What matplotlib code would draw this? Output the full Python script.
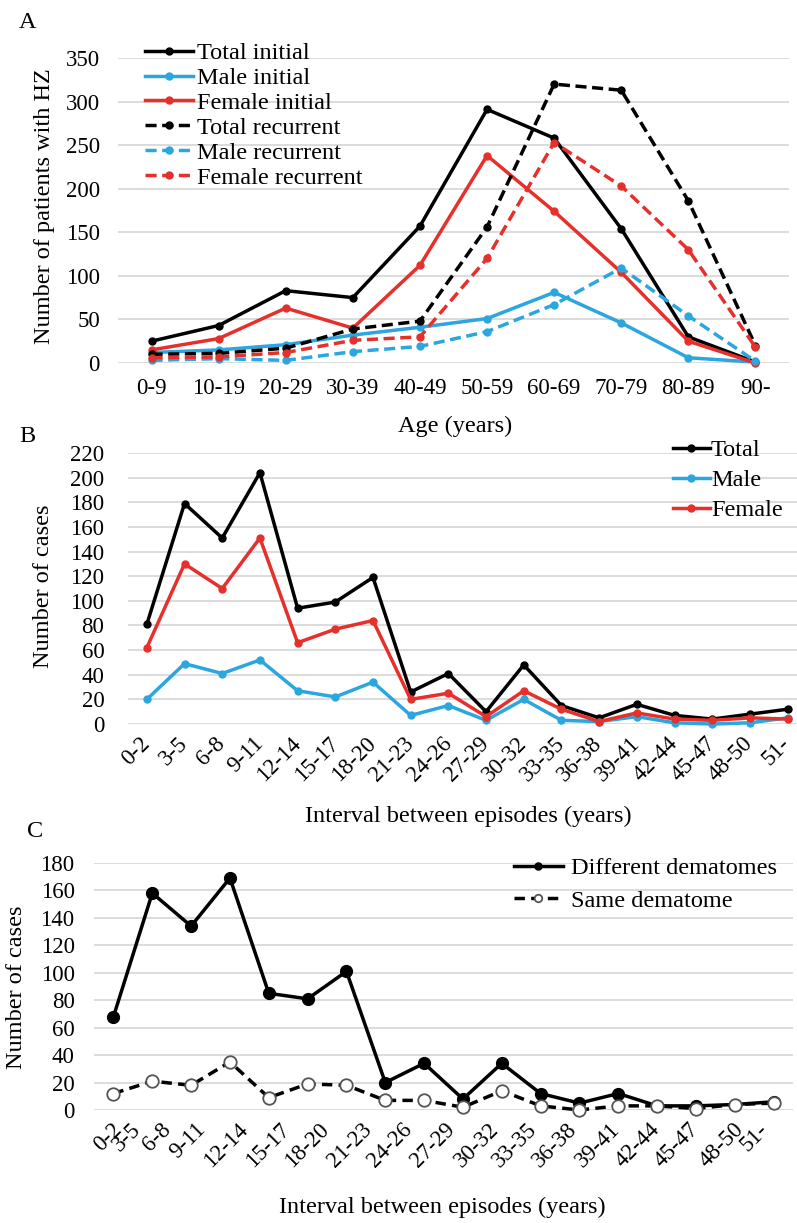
import numpy as np
import matplotlib
matplotlib.use("Agg")
import matplotlib.pyplot as plt

plt.rcParams['font.family'] = ['Liberation Serif', 'DejaVu Serif']

# ---- data ----
age_groups = ['0-9', '10-19', '20-29', '30-39', '40-49', '50-59', '60-69', '70-79', '80-89', '90-']
total_initial = [25, 43, 83, 75, 157, 291, 258, 154, 30, 1]
male_initial = [12, 15, 21, 32, 41, 51, 81, 46, 6, 1]
female_initial = [15, 28, 63, 40, 112, 238, 174, 104, 25, 0]
total_recurrent = [10, 11, 17, 39, 48, 156, 320, 313, 186, 20]
male_recurrent = [3, 5, 3, 13, 19, 36, 67, 109, 54, 2]
female_recurrent = [6, 7, 12, 26, 30, 120, 253, 203, 130, 18]

intervals = ['0-2', '3-5', '6-8', '9-11', '12-14', '15-17', '18-20', '21-23', '24-26',
             '27-29', '30-32', '33-35', '36-38', '39-41', '42-44', '45-47', '48-50', '51-']
total_cases = [81, 179, 151, 204, 94, 99, 119, 26, 41, 10, 48, 15, 5, 16, 7, 4, 8, 12]
male_cases = [20, 49, 41, 52, 27, 22, 34, 7, 15, 3, 20, 3, 2, 6, 1, 0, 1, 5]
female_cases = [62, 130, 110, 151, 66, 77, 84, 20, 25, 6, 27, 12, 2, 9, 4, 3, 5, 4]

different_derm = [68, 158, 134, 169, 85, 81, 101, 20, 34, 8, 34, 12, 5, 12, 3, 3, 4, 6]
same_derm = [12, 21, 18, 35, 9, 19, 18, 7, 7, 2, 14, 3, 0, 3, 3, 1, 4, 5]

# tick label positions in panel C (the original labels are shifted from the points)
c_label_pos = [0.15, 0.62, 1.39, 2.29, 3.37, 4.45, 5.48, 6.58, 7.61, 8.72,
               9.85, 10.82, 11.85, 12.95, 13.99, 14.99, 16.15, 16.79]

BLUE = '#2ba6de'
RED = '#e5302b'
GRID = '#d9d9d9'
FS = 16.5
LFS = 17.5

fig = plt.figure(figsize=(7.97, 12.23), dpi=100)


def style(ax):
    for s in ax.spines.values():
        s.set_visible(False)
    ax.yaxis.grid(True, color=GRID, linewidth=1.3)
    ax.set_axisbelow(True)
    ax.tick_params(length=0, labelsize=FS)


# ---- panel A ----
axA = fig.add_axes([0.148, 0.7032, 0.842, 0.2494])
style(axA)
xa = np.arange(len(age_groups))
kw = dict(lw=2.5, marker='o', ms=5, clip_on=False)
dash = (3.2, 1.6)
axA.plot(xa, total_initial, color='black', label='Total initial', **kw)
axA.plot(xa, male_initial, color=BLUE, label='Male initial', **kw)
axA.plot(xa, female_initial, color=RED, label='Female initial', **kw)
axA.plot(xa, total_recurrent, color='black', ls='--', dashes=dash, label='Total recurrent', **kw)
axA.plot(xa, male_recurrent, color=BLUE, ls='--', dashes=dash, label='Male recurrent', **kw)
axA.plot(xa, female_recurrent, color=RED, ls='--', dashes=dash, label='Female recurrent', **kw)
axA.set_xlim(-0.5, len(age_groups) - 0.5)
axA.set_ylim(0, 350)
axA.set_yticks(np.arange(0, 351, 50))
axA.set_xticks(xa)
axA.set_xticklabels(age_groups)
axA.tick_params(axis='x', pad=11)
axA.tick_params(axis='y', pad=13)
axA.set_xlabel('Age (years)', fontsize=LFS)
axA.xaxis.set_label_coords(0.502, -0.172)
axA.set_ylabel('Number of patients with HZ', fontsize=LFS)
axA.yaxis.set_label_coords(-0.094, 0.515)
axA.legend(loc='upper left', bbox_to_anchor=(0.040, 1.052), frameon=False, fontsize=LFS,
           borderpad=0, borderaxespad=0, handlelength=2.0, handletextpad=0.15,
           labelspacing=0.12)

# ---- panel B ----
axB = fig.add_axes([0.1606, 0.408, 0.8394, 0.2216])
style(axB)
xb = np.arange(len(intervals))
axB.plot(xb, total_cases, color='black', label='Total', **kw)
axB.plot(xb, male_cases, color=BLUE, label='Male', **kw)
axB.plot(xb, female_cases, color=RED, label='Female', **kw)
axB.set_xlim(-0.5, 17.25)
axB.set_ylim(0, 220)
axB.set_yticks(np.arange(0, 221, 20))
axB.set_xticks(xb)
axB.set_xticklabels(intervals)
plt.setp(axB.get_xticklabels(), rotation=45, ha='right', va='center', rotation_mode='anchor')
axB.tick_params(axis='x', pad=12)
axB.tick_params(axis='y', pad=17)
axB.set_xlabel('Interval between episodes (years)', fontsize=LFS)
axB.xaxis.set_label_coords(0.508, -0.30)
axB.set_ylabel('Number of cases', fontsize=LFS)
axB.yaxis.set_label_coords(-0.111, 0.51)
axB.legend(loc='upper left', bbox_to_anchor=(0.815, 1.05), frameon=False, fontsize=LFS,
           borderpad=0, borderaxespad=0, handlelength=1.5, handletextpad=0.05,
           labelspacing=0.32)

# ---- panel C ----
axC = fig.add_axes([0.118, 0.0924, 0.877, 0.202])
style(axC)
xc = np.arange(len(intervals))
axC.plot(xc, different_derm, color='black', lw=2.5, marker='o', ms=8.5,
         clip_on=False, label='Different dematomes')
axC.plot(xc, same_derm, color='black', lw=2.5, ls='--', dashes=(3.0, 1.8), marker='o', ms=9,
         mfc='white', mec='#555555', mew=1.3, clip_on=False, label='Same dematome')
axC.set_xlim(-0.5, len(intervals) - 0.5)
axC.set_ylim(0, 180)
axC.set_yticks(np.arange(0, 181, 20))
axC.set_xticks(c_label_pos)
axC.set_xticklabels(intervals)
plt.setp(axC.get_xticklabels(), rotation=45, ha='right', va='center', rotation_mode='anchor')
axC.tick_params(axis='x', pad=12)
axC.tick_params(axis='y', pad=14)
axC.set_xlabel('Interval between episodes (years)', fontsize=LFS)
axC.xaxis.set_label_coords(0.498, -0.35)
axC.set_ylabel('Number of cases', fontsize=LFS)
axC.yaxis.set_label_coords(-0.096, 0.498)
axC.legend(loc='upper left', bbox_to_anchor=(0.601, 1.024), frameon=False, fontsize=LFS,
           borderpad=0, borderaxespad=0, handlelength=2.0, handletextpad=0.35,
           labelspacing=0.45, markerscale=0.6)

# panel letters
fig.text(0.034, 0.982, 'A', fontsize=LFS, ha='center', va='center')
fig.text(0.034, 0.643, 'B', fontsize=LFS, ha='center', va='center')
fig.text(0.044, 0.320, 'C', fontsize=LFS, ha='center', va='center')

fig.savefig('out.png', dpi=100)
